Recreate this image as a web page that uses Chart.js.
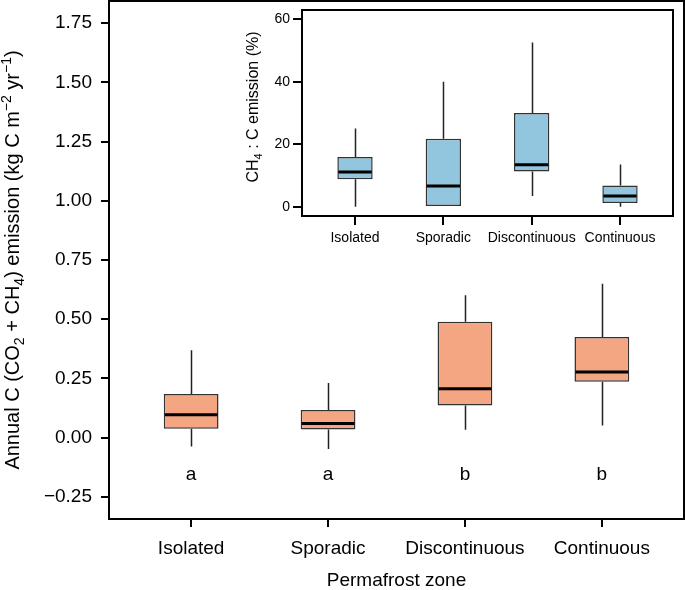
<!DOCTYPE html>
<html>
<head>
<meta charset="utf-8">
<script src="https://cdn.jsdelivr.net/npm/chart.js@4.4.1/dist/chart.umd.min.js"></script>
<style>
  html, body { margin: 0; padding: 0; background: #fff; }
  #wrap { position: relative; width: 685px; height: 590px; }
  #main { position: absolute; left: 0; top: 0; }
  #inset { position: absolute; left: 230px; top: 0; }
</style>
</head>
<body>
<div id="wrap">
  <canvas id="main" width="685" height="590"></canvas>
  <canvas id="inset" width="455" height="250"></canvas>
</div>
<script>
// ── Data ─────────────────────────────────────────────
const zones = ['Isolated', 'Sporadic', 'Discontinuous', 'Continuous'];

// annual C (CO2 + CH4) emission, kg C m-2 yr-1
const emisLow  = [-0.037, -0.048, 0.034, 0.052];
const emisQ1   = [0.038, 0.035, 0.136, 0.236];
const emisMed  = [0.097, 0.060, 0.207, 0.277];
const emisQ3   = [0.185, 0.117, 0.489, 0.425];
const emisHigh = [0.369, 0.231, 0.601, 0.650];
const emisGroups = ['a', 'a', 'b', 'b'];
const emisTicks  = [-0.25, 0, 0.25, 0.5, 0.75, 1, 1.25, 1.5, 1.75];

// CH4 : C emission, %
const ch4Low  = [0.1, 0, 3.5, 0.1];
const ch4Q1   = [8.9, 0, 11.3, 1.3];
const ch4Med  = [11.2, 6.7, 13.5, 3.5];
const ch4Q3   = [16.0, 21.8, 30.0, 6.9];
const ch4High = [25.1, 40.0, 52.5, 13.6];
const ch4Ticks = [0, 20, 40, 60];

const FONT = "'Liberation Sans', Arial, Helvetica, sans-serif";

// text with sub/superscripts, centred on (x, y); parts: [text, 1 sup | -1 sub | 0]
function drawRich(ctx, parts, x, y, size) {
    const small = Math.round(size * 0.7);
    let total = 0;
    parts.forEach(([t, k]) => {
        ctx.font = `${k ? small : size}px ${FONT}`;
        total += ctx.measureText(t).width;
    });
    let cx = x - total / 2;
    parts.forEach(([t, k]) => {
        ctx.font = `${k ? small : size}px ${FONT}`;
        const dy = k === 1 ? -size * 0.42 : k === -1 ? size * 0.25 : 0;
        ctx.fillText(t, cx, y + dy);
        cx += ctx.measureText(t).width;
    });
}

// whiskers, medians, frame, group letters, rotated y title
const boxExtras = {
    id: 'boxExtras',
    beforeDatasetsDraw(chart, args, o) {
        const { ctx, scales: { x, y } } = chart;
        ctx.save();
        ctx.strokeStyle = '#222';
        ctx.lineWidth = 1.5;
        o.low.forEach((lo, i) => {
            const px = Math.round(x.getPixelForValue(i)) + 0.5;
            ctx.beginPath();
            ctx.moveTo(px, y.getPixelForValue(o.high[i]));
            ctx.lineTo(px, y.getPixelForValue(o.q3[i]));
            ctx.moveTo(px, y.getPixelForValue(o.q1[i]));
            ctx.lineTo(px, y.getPixelForValue(lo));
            ctx.stroke();
        });
        ctx.restore();
    },
    afterDatasetsDraw(chart, args, o) {
        const { ctx, chartArea: ca, scales: { x, y } } = chart;
        const bars = chart.getDatasetMeta(0).data;
        ctx.save();
        ctx.strokeStyle = '#000';
        ctx.lineWidth = 3;
        o.med.forEach((m, i) => {
            const el = bars[i];
            const py = y.getPixelForValue(m);
            ctx.beginPath();
            ctx.moveTo(el.x - el.width / 2 + 1, py);
            ctx.lineTo(el.x + el.width / 2 - 1, py);
            ctx.stroke();
        });

        if (o.letters) {
            ctx.fillStyle = '#000';
            ctx.font = `${o.letterSize}px ${FONT}`;
            ctx.textAlign = 'center';
            ctx.textBaseline = 'alphabetic';
            o.letters.forEach((l, i) => {
                ctx.fillText(l, x.getPixelForValue(i), y.getPixelForValue(o.letterAt));
            });
        }

        ctx.lineWidth = 2;
        ctx.strokeRect(ca.left, ca.top, ca.right - ca.left, ca.bottom - ca.top);

        // y title
        ctx.fillStyle = '#000';
        ctx.textAlign = 'left';
        ctx.textBaseline = 'alphabetic';
        ctx.translate(o.titleX, o.titleY ?? (ca.top + ca.bottom) / 2);
        ctx.rotate(-Math.PI / 2);
        drawRich(ctx, o.title, 0, 0, o.titleSize);
        ctx.restore();
    },
};

function boxData(q1, q3) {
    return zones.map((z, i) => ({ x: i, y: [q1[i], q3[i]] }));
}

function makeScales(yMin, yMax, yTicks, yFmt, sz) {
    return {
        x: {
            type: 'linear',
            min: -0.6, max: 3.6,
            offset: false,
            afterBuildTicks: s => { s.ticks = zones.map((z, i) => ({ value: i })); },
            afterFit: s => {
                s.height = sz.xHeight;
                s.paddingLeft = s.paddingRight = 0;
            },
            ticks: {
                autoSkip: false, maxRotation: 0,
                callback: v => zones[v],
                color: '#000', padding: sz.xPad,
                font: { family: FONT, size: sz.tickFont },
            },
            grid: {
                offset: false, drawOnChartArea: false, drawTicks: true,
                tickLength: sz.tickLen, color: '#000', lineWidth: 2,
            },
            border: { display: false },
            title: sz.xTitle ? {
                display: true, text: sz.xTitle, color: '#000',
                font: { family: FONT, size: sz.tickFont, lineHeight: 1 },
                padding: 0,
            } : { display: false },
        },
        y: {
            min: yMin, max: yMax,
            afterBuildTicks: s => { s.ticks = yTicks.map(v => ({ value: v })); },
            afterFit: s => {
                s.width = sz.yWidth;
                s.paddingTop = s.paddingBottom = 0;
            },
            ticks: {
                callback: yFmt,
                color: '#000', padding: sz.yPad,
                font: { family: FONT, size: sz.tickFont },
            },
            grid: {
                drawOnChartArea: false, drawTicks: true,
                tickLength: sz.tickLen, color: '#000', lineWidth: 2,
            },
            border: { display: false },
        },
    };
}

// ── Main chart: annual C emission ──────────────────────
new Chart(document.getElementById('main').getContext('2d'), {
    type: 'bar',
    data: {
        datasets: [{
            data: boxData(emisQ1, emisQ3),
            backgroundColor: '#F4A582',
            borderColor: '#333',
            borderWidth: 1.5,
            borderSkipped: false,
            categoryPercentage: 1,
            barPercentage: 0.4,
        }],
    },
    options: {
        responsive: false,
        animation: false,
        layout: { autoPadding: false, padding: { left: 0, top: 1, right: 1, bottom: 0 } },
        scales: makeScales(-0.343, 1.843, emisTicks,
            v => v.toFixed(2).replace('-', '\u2212'),
            { xHeight: 71, yWidth: 109, tickLen: 8, xPad: 10, yPad: 9, tickFont: 19, xTitle: 'Permafrost zone' }),
        plugins: {
            legend: { display: false },
            tooltip: { enabled: false },
            boxExtras: {
                low: emisLow, q1: emisQ1, med: emisMed, q3: emisQ3, high: emisHigh,
                letters: emisGroups, letterAt: -0.178, letterSize: 19,
                titleX: 19, titleSize: 20,
                title: [['Annual C (CO', 0], ['2', -1], [' + CH', 0], ['4', -1],
                        [') emission (kg C m', 0], ['\u22122', 1], [' yr', 0], ['\u22121', 1], [')', 0]],
            },
        },
    },
    plugins: [boxExtras],
});

// ── Inset: CH4 share ───────────────────────────────────
new Chart(document.getElementById('inset').getContext('2d'), {
    type: 'bar',
    data: {
        datasets: [{
            data: boxData(ch4Q1, ch4Q3),
            backgroundColor: '#92C5DE',
            borderColor: '#333',
            borderWidth: 1.5,
            borderSkipped: false,
            categoryPercentage: 1,
            barPercentage: 0.4,
        }],
    },
    options: {
        responsive: false,
        animation: false,
        layout: { autoPadding: false, padding: { left: 0, top: 10, right: 12, bottom: 0 } },
        scales: makeScales(-2.87, 62.9, ch4Ticks, v => String(v),
            { xHeight: 34, yWidth: 72, tickLen: 9, xPad: 5, yPad: 3, tickFont: 14 }),
        plugins: {
            legend: { display: false },
            tooltip: { enabled: false },
            boxExtras: {
                low: ch4Low, q1: ch4Q1, med: ch4Med, q3: ch4Q3, high: ch4High,
                titleX: 28, titleY: 107, titleSize: 16,
                title: [['CH', 0], ['4', -1], [' : C emission (%)', 0]],
            },
        },
    },
    plugins: [boxExtras],
});
</script>
</body>
</html>
